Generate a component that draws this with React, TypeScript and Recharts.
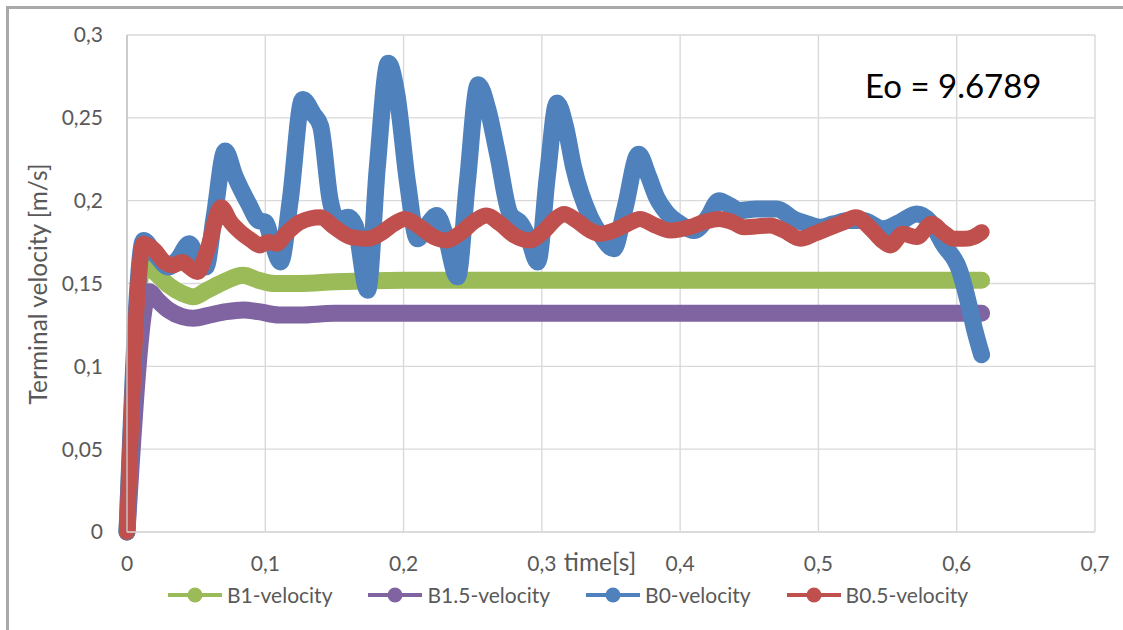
import React from "react";
import { LineChart, Line, XAxis, YAxis, CartesianGrid, Legend } from "recharts";

const FONT = "Lato, 'Open Sans', sans-serif";
const TEXT = "#595959";

const X_TICKS = [0, 0.1, 0.2, 0.3, 0.4, 0.5, 0.6, 0.7];
const Y_TICKS = [0, 0.05, 0.1, 0.15, 0.2, 0.25, 0.3];

// B1 (green)
const b1Time = [0, 0.012, 0.02, 0.03, 0.04, 0.048, 0.058, 0.07, 0.084, 0.095, 0.107, 0.125, 0.15, 0.2, 0.3, 0.4, 0.5, 0.618];
const b1Vel = [0, 0.163, 0.157, 0.149, 0.144, 0.142, 0.146, 0.151, 0.155, 0.152, 0.15, 0.15, 0.151, 0.152, 0.152, 0.152, 0.152, 0.152];

// B1.5 (purple)
const b15Time = [0, 0.016, 0.022, 0.03, 0.04, 0.048, 0.06, 0.072, 0.084, 0.095, 0.11, 0.125, 0.15, 0.2, 0.3, 0.4, 0.5, 0.618];
const b15Vel = [0, 0.145, 0.14, 0.134, 0.13, 0.129, 0.131, 0.133, 0.134, 0.133, 0.131, 0.131, 0.132, 0.132, 0.132, 0.132, 0.132, 0.132];

// B0 (blue)
const b0Time = [
  0, 0.012, 0.02, 0.03, 0.037, 0.045, 0.052, 0.057, 0.063, 0.071, 0.078, 0.088, 0.095, 0.1, 0.105, 0.111,
  0.118, 0.127, 0.135, 0.14, 0.147, 0.152, 0.16, 0.165, 0.174, 0.181, 0.189, 0.195, 0.203, 0.21, 0.217,
  0.224, 0.23, 0.239, 0.246, 0.254, 0.261, 0.268, 0.277, 0.285, 0.29, 0.297, 0.304, 0.311, 0.317, 0.323,
  0.335, 0.342, 0.352, 0.36, 0.37, 0.377, 0.383, 0.39, 0.4, 0.41, 0.42, 0.428, 0.436, 0.443, 0.455, 0.47,
  0.482, 0.492, 0.501, 0.511, 0.522, 0.532, 0.547, 0.559, 0.571, 0.581, 0.59, 0.602, 0.608, 0.613, 0.618,
];
const b0Vel = [
  0, 0.176, 0.168, 0.16, 0.165, 0.174, 0.163, 0.16, 0.19, 0.23, 0.215, 0.198, 0.188, 0.187, 0.175, 0.163,
  0.2, 0.261, 0.252, 0.245, 0.2, 0.188, 0.19, 0.185, 0.146, 0.22, 0.283, 0.265, 0.21, 0.177, 0.185,
  0.191, 0.18, 0.154, 0.21, 0.27, 0.255, 0.228, 0.192, 0.186, 0.178, 0.163, 0.215, 0.259, 0.245, 0.22,
  0.19, 0.18, 0.171, 0.195, 0.228, 0.215, 0.202, 0.193, 0.186, 0.182, 0.19, 0.2, 0.197, 0.194, 0.195, 0.195,
  0.189, 0.186, 0.184, 0.186, 0.188, 0.188, 0.183, 0.187, 0.192, 0.187, 0.174, 0.158, 0.14, 0.122, 0.107,
];

// B0.5 (red)
const b05Time = [
  0, 0.012, 0.02, 0.027, 0.033, 0.04, 0.045, 0.051, 0.058, 0.068, 0.075, 0.082, 0.09, 0.096, 0.102, 0.108,
  0.115, 0.125, 0.14, 0.15, 0.162, 0.174, 0.183, 0.193, 0.201, 0.212, 0.222, 0.231, 0.242, 0.252, 0.26,
  0.27, 0.28, 0.291, 0.302, 0.31, 0.316, 0.325, 0.335, 0.342, 0.352, 0.362, 0.371, 0.382, 0.393, 0.407,
  0.417, 0.428, 0.438, 0.446, 0.465, 0.475, 0.487, 0.497, 0.506, 0.518, 0.527, 0.538, 0.546, 0.552, 0.561,
  0.571, 0.582, 0.59, 0.598, 0.606, 0.612, 0.618,
];
const b05Vel = [
  0, 0.174, 0.17, 0.163, 0.161, 0.163, 0.16, 0.157, 0.17, 0.196, 0.187, 0.181, 0.176, 0.173, 0.175, 0.174,
  0.18, 0.187, 0.19, 0.184, 0.178, 0.177, 0.18, 0.186, 0.189, 0.184, 0.178, 0.176, 0.181, 0.188, 0.191,
  0.186, 0.179, 0.176, 0.182, 0.189, 0.192, 0.188, 0.182, 0.18, 0.182, 0.186, 0.189, 0.185, 0.182, 0.184,
  0.187, 0.189, 0.187, 0.184, 0.185, 0.182, 0.177, 0.18, 0.183, 0.187, 0.19, 0.183, 0.176, 0.173, 0.18,
  0.178, 0.186, 0.181, 0.177, 0.177, 0.178, 0.181,
];

const zip = (t: number[], v: number[]) => t.map((x, i) => ({ t: x, v: v[i] }));

const SERIES = [
  { name: "B1-velocity", color: "#9BBB59", width: 17, data: zip(b1Time, b1Vel) },
  { name: "B1.5-velocity", color: "#8064A2", width: 17, data: zip(b15Time, b15Vel) },
  { name: "B0-velocity", color: "#4F81BD", width: 17, data: zip(b0Time, b0Vel) },
  { name: "B0.5-velocity", color: "#C0504D", width: 16, data: zip(b05Time, b05Vel) },
];

const fmt = (v: number) => String(v).replace(".", ",");

function LegendBox() {
  return (
    <div style={{ display: "flex", alignItems: "center", fontFamily: FONT, fontSize: 21, color: TEXT }}>
      {SERIES.map((s) => (
        <div key={s.name} style={{ display: "flex", alignItems: "center", marginRight: 36 }}>
          <svg width={54} height={16}>
            <line x1={0} y1={8} x2={54} y2={8} stroke={s.color} strokeWidth={4} />
            <circle cx={27} cy={8} r={7.5} fill={s.color} />
          </svg>
          <span style={{ marginLeft: 5 }}>{s.name}</span>
        </div>
      ))}
    </div>
  );
}

const XLabel = () => (
  <text x={600} y={571} textAnchor="middle" fontFamily={FONT} fontSize={24.5} fill={TEXT}>
    time[s]
  </text>
);

const YLabel = () => (
  <text x={-284} y={47} transform="rotate(-90)" textAnchor="middle" fontFamily={FONT} fontSize={24.5} fill={TEXT}>
    Terminal velocity [m/s]
  </text>
);

export default function App() {
  const tick = { fill: TEXT, fontSize: 21, fontFamily: FONT };
  return (
    <div style={{ position: "absolute", left: 0, top: 0, width: 1123, height: 630, background: "#fff", overflow: "hidden" }}>
      <div
        style={{
          position: "absolute",
          left: 6,
          top: 6,
          width: 1200,
          height: 700,
          borderLeft: "3px solid #a9a9a9",
          borderTop: "3px solid #a9a9a9",
        }}
      />
      <LineChart width={1123} height={630} margin={{ top: 35, right: 28, bottom: 0, left: 0 }}>
        <CartesianGrid stroke="#d9d9d9" strokeWidth={1.4} />
        <XAxis
          type="number"
          dataKey="t"
          domain={[0, 0.7]}
          ticks={X_TICKS}
          interval={0}
          tickFormatter={fmt}
          tick={tick}
          tickLine={false}
          tickSize={0}
          tickMargin={24}
          axisLine={{ stroke: "#d9d9d9", strokeWidth: 1.5 }}
          height={98}
          label={<XLabel />}
        />
        <YAxis
          type="number"
          domain={[0, 0.3]}
          ticks={Y_TICKS}
          interval={0}
          tickFormatter={fmt}
          tick={tick}
          tickLine={false}
          tickSize={0}
          tickMargin={24}
          axisLine={{ stroke: "#c4c4c4", strokeWidth: 1.5 }}
          width={127}
          label={<YLabel />}
        />
        {SERIES.map((s) => (
          <Line
            key={s.name}
            name={s.name}
            data={s.data}
            dataKey="v"
            type="monotone"
            stroke={s.color}
            strokeWidth={s.width}
            strokeLinecap="round"
            strokeLinejoin="round"
            dot={false}
            activeDot={false}
            isAnimationActive={false}
          />
        ))}
        <Legend
          layout="horizontal"
          verticalAlign="middle"
          align="center"
          content={<LegendBox />}
          wrapperStyle={{ left: 168, top: 582, width: 900, height: 28 }}
        />
      </LineChart>
      <div
        style={{
          position: "absolute",
          left: 865,
          top: 66,
          fontFamily: FONT,
          fontSize: 33,
          lineHeight: 1.2,
          color: "#000",
          whiteSpace: "nowrap",
        }}
      >
        Eo = 9.6789
      </div>
    </div>
  );
}
